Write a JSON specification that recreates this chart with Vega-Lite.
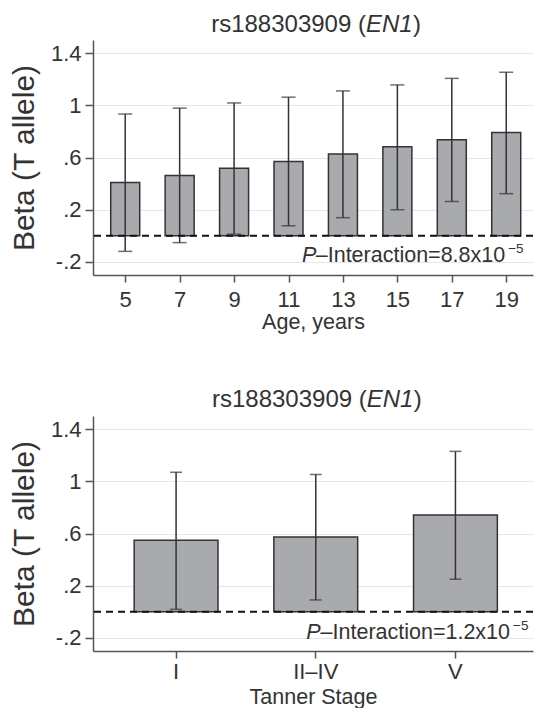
{
  "$schema": "https://vega.github.io/schema/vega-lite/v6.json",
  "background": "white",
  "padding": {"left": 9, "top": 12, "right": 0, "bottom": 0},
  "spacing": 54,
  "config": {
    "font": "Liberation Sans",
    "view": {"stroke": null},
    "text": {"font": "Liberation Sans", "fontWeight": "normal"},
    "axis": {"domainColor": "#555", "domainWidth": 1.5, "tickColor": "#555", "tickWidth": 1.5, "labelColor": "#333", "titleColor": "#333", "labelFontSize": 22, "titleFontWeight": "normal", "gridColor": "#e6e6e6", "gridWidth": 1, "labelFont": "Liberation Sans", "titleFont": "Liberation Sans"}
  },
  "vconcat": [
    {
      "width": 440,
      "height": 235,
      "data": {"values": [
        {"age": 5, "beta": 0.408, "lo": -0.119, "hi": 0.933},
        {"age": 7, "beta": 0.463, "lo": -0.052, "hi": 0.978},
        {"age": 9, "beta": 0.518, "lo": 0.013, "hi": 1.018},
        {"age": 11, "beta": 0.57, "lo": 0.077, "hi": 1.062},
        {"age": 13, "beta": 0.626, "lo": 0.139, "hi": 1.11},
        {"age": 15, "beta": 0.682, "lo": 0.2, "hi": 1.156},
        {"age": 17, "beta": 0.736, "lo": 0.263, "hi": 1.206},
        {"age": 19, "beta": 0.792, "lo": 0.323, "hi": 1.253}
      ]},
      "layer": [
        {
          "mark": {"type": "bar", "size": 29, "fill": "#a9aaad", "stroke": "#333", "strokeWidth": 1.5, "orient": "vertical"},
          "encoding": {
            "x": {"field": "age", "type": "quantitative", "scale": {"domain": [4, 19.8], "nice": false, "zero": false},
                  "axis": {"values": [5, 7, 9, 11, 13, 15, 17, 19], "title": "Age, years", "titleFontSize": 21.5, "titlePadding": 1, "labelPadding": 7, "tickSize": 7, "grid": false}},
            "y": {"field": "beta", "type": "quantitative", "scale": {"domain": [-0.3, 1.5], "nice": false, "zero": false},
                  "axis": {"values": [-0.2, 0.2, 0.6, 1, 1.4], "labelExpr": "replace(toString(datum.value),'0.','.')", "title": "Beta (T allele)", "titleFontSize": 30, "tickSize": 8, "labelPadding": 4, "titlePadding": 11, "grid": true}},
            "y2": {"datum": 0}
          }
        },
        {
          "mark": {"type": "rule", "color": "#333", "strokeWidth": 1.5},
          "encoding": {"x": {"field": "age", "type": "quantitative"}, "y": {"field": "lo", "type": "quantitative"}, "y2": {"field": "hi"}}
        },
        {
          "mark": {"type": "tick", "orient": "horizontal", "size": 14, "thickness": 1.5, "color": "#333"},
          "encoding": {"x": {"field": "age", "type": "quantitative"}, "y": {"field": "lo", "type": "quantitative"}}
        },
        {
          "mark": {"type": "tick", "orient": "horizontal", "size": 14, "thickness": 1.5, "color": "#333"},
          "encoding": {"x": {"field": "age", "type": "quantitative"}, "y": {"field": "hi", "type": "quantitative"}}
        },
        {
          "data": {"values": [{}]},
          "mark": {"type": "rule", "strokeDash": [7, 5], "strokeWidth": 2, "color": "#111"},
          "encoding": {"y": {"datum": 0}}
        },
        {
          "data": {"values": [{}]},
          "mark": {"type": "text", "text": "–Interaction=8.8x10", "font": "Liberation Sans", "fontWeight": "normal", "align": "right", "baseline": "alphabetic", "fontSize": 21.5, "color": "#333", "dx": -1, "dy": 0},
          "encoding": {"x": {"datum": 19}, "y": {"datum": -0.2}}
        },
        {
          "data": {"values": [{}]},
          "mark": {"type": "text", "text": "P", "font": "Liberation Sans", "fontWeight": "normal", "align": "right", "baseline": "alphabetic", "fontSize": 21.5, "fontStyle": "italic", "color": "#333", "dx": -190, "dy": 0},
          "encoding": {"x": {"datum": 19}, "y": {"datum": -0.2}}
        },
        {
          "data": {"values": [{}]},
          "mark": {"type": "text", "text": "−5", "font": "Liberation Sans", "fontWeight": "normal", "align": "left", "baseline": "alphabetic", "fontSize": 13.5, "color": "#333", "dx": 2, "dy": -9},
          "encoding": {"x": {"datum": 19}, "y": {"datum": -0.2}}
        },
        {
          "data": {"values": [{}]},
          "mark": {"type": "text", "text": "rs188303909 (", "font": "Liberation Sans", "fontWeight": "normal", "align": "right", "baseline": "alphabetic", "fontSize": 24, "color": "#333", "dx": 23, "dy": -8.5},
          "encoding": {"x": {"datum": 13}, "y": {"datum": 1.5}}
        },
        {
          "data": {"values": [{}]},
          "mark": {"type": "text", "text": "EN1", "font": "Liberation Sans", "fontWeight": "normal", "align": "left", "baseline": "alphabetic", "fontSize": 24, "fontStyle": "italic", "color": "#333", "dx": 23, "dy": -8.5},
          "encoding": {"x": {"datum": 13}, "y": {"datum": 1.5}}
        },
        {
          "data": {"values": [{}]},
          "mark": {"type": "text", "text": ")", "font": "Liberation Sans", "fontWeight": "normal", "align": "left", "baseline": "alphabetic", "fontSize": 24, "color": "#333", "dx": 70, "dy": -8.5},
          "encoding": {"x": {"datum": 13}, "y": {"datum": 1.5}}
        }
      ]
    },
    {
      "width": 440,
      "height": 235,
      "data": {"values": [
        {"stage": "I", "beta": 0.549, "lo": 0.019, "hi": 1.069},
        {"stage": "II–IV", "beta": 0.574, "lo": 0.091, "hi": 1.052},
        {"stage": "V", "beta": 0.741, "lo": 0.25, "hi": 1.229}
      ]},
      "layer": [
        {
          "mark": {"type": "bar", "fill": "#a9aaad", "stroke": "#333", "strokeWidth": 1.5},
          "encoding": {
            "x": {"field": "stage", "type": "nominal", "sort": null, "scale": {"paddingInner": 0.4, "paddingOuter": 0.275, "align": 0.536},
                  "axis": {"labelAngle": 0, "title": "Tanner Stage", "titleFontSize": 21.5, "titlePadding": 4, "labelPadding": 3, "tickSize": 7, "grid": false}},
            "y": {"field": "beta", "type": "quantitative", "scale": {"domain": [-0.3, 1.5], "nice": false, "zero": false},
                  "axis": {"values": [-0.2, 0.2, 0.6, 1, 1.4], "labelExpr": "replace(toString(datum.value),'0.','.')", "title": "Beta (T allele)", "titleFontSize": 30, "tickSize": 8, "labelPadding": 4, "titlePadding": 11, "grid": true}},
            "y2": {"datum": 0}
          }
        },
        {
          "mark": {"type": "rule", "color": "#333", "strokeWidth": 1.5},
          "encoding": {"x": {"field": "stage", "type": "nominal", "sort": null}, "y": {"field": "lo", "type": "quantitative"}, "y2": {"field": "hi"}}
        },
        {
          "mark": {"type": "tick", "orient": "horizontal", "size": 12, "thickness": 1.5, "color": "#333"},
          "encoding": {"x": {"field": "stage", "type": "nominal", "sort": null}, "y": {"field": "lo", "type": "quantitative"}}
        },
        {
          "mark": {"type": "tick", "orient": "horizontal", "size": 12, "thickness": 1.5, "color": "#333"},
          "encoding": {"x": {"field": "stage", "type": "nominal", "sort": null}, "y": {"field": "hi", "type": "quantitative"}}
        },
        {
          "data": {"values": [{}]},
          "mark": {"type": "rule", "strokeDash": [7, 5], "strokeWidth": 2, "color": "#111"},
          "encoding": {"y": {"datum": 0}}
        },
        {
          "data": {"values": [{}]},
          "mark": {"type": "text", "text": "–Interaction=1.2x10", "font": "Liberation Sans", "fontWeight": "normal", "align": "right", "baseline": "alphabetic", "fontSize": 21.5, "color": "#333", "dx": 54.6, "dy": 1.5},
          "encoding": {"x": {"datum": "V"}, "y": {"datum": -0.2}}
        },
        {
          "data": {"values": [{}]},
          "mark": {"type": "text", "text": "P", "font": "Liberation Sans", "fontWeight": "normal", "align": "right", "baseline": "alphabetic", "fontSize": 21.5, "fontStyle": "italic", "color": "#333", "dx": -134.8, "dy": 1.5},
          "encoding": {"x": {"datum": "V"}, "y": {"datum": -0.2}}
        },
        {
          "data": {"values": [{}]},
          "mark": {"type": "text", "text": "−5", "font": "Liberation Sans", "fontWeight": "normal", "align": "left", "baseline": "alphabetic", "fontSize": 13.5, "color": "#333", "dx": 57.6, "dy": -7.5},
          "encoding": {"x": {"datum": "V"}, "y": {"datum": -0.2}}
        },
        {
          "data": {"values": [{}]},
          "mark": {"type": "text", "text": "rs188303909 (", "font": "Liberation Sans", "fontWeight": "normal", "align": "right", "baseline": "alphabetic", "fontSize": 24, "color": "#333", "dx": 51, "dy": -9.5},
          "encoding": {"x": {"datum": "II–IV"}, "y": {"datum": 1.5}}
        },
        {
          "data": {"values": [{}]},
          "mark": {"type": "text", "text": "EN1", "font": "Liberation Sans", "fontWeight": "normal", "align": "left", "baseline": "alphabetic", "fontSize": 24, "fontStyle": "italic", "color": "#333", "dx": 51, "dy": -9.5},
          "encoding": {"x": {"datum": "II–IV"}, "y": {"datum": 1.5}}
        },
        {
          "data": {"values": [{}]},
          "mark": {"type": "text", "text": ")", "font": "Liberation Sans", "fontWeight": "normal", "align": "left", "baseline": "alphabetic", "fontSize": 24, "color": "#333", "dx": 98, "dy": -9.5},
          "encoding": {"x": {"datum": "II–IV"}, "y": {"datum": 1.5}}
        }
      ]
    }
  ]
}
